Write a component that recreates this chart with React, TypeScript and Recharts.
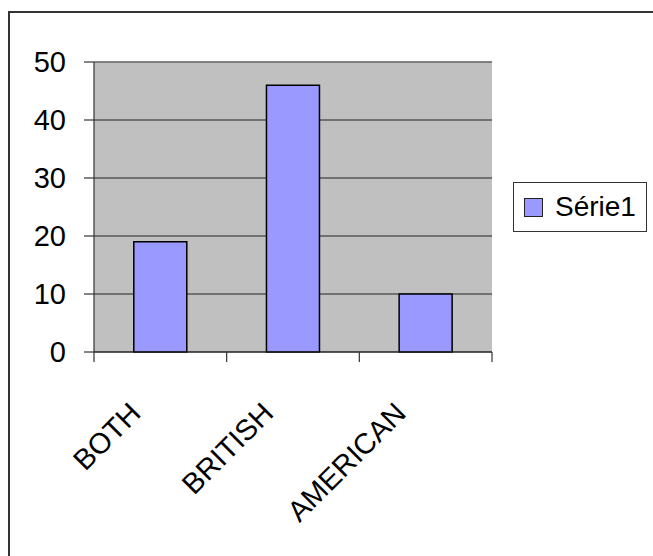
import React from "react";
import {
  BarChart,
  Bar,
  XAxis,
  YAxis,
  CartesianGrid,
  Legend,
  ReferenceLine,
} from "recharts";

const categories = ["BOTH", "BRITISH", "AMERICAN"];
const serie1 = [19, 46, 10];
const yTicks = [0, 10, 20, 30, 40, 50];

const data = categories.map((name, i) => ({ name, "Série1": serie1[i] }));

const WIDTH = 653;
const HEIGHT = 556;
const MARGIN = { top: 62, right: 161, bottom: 0, left: 0 };
const Y_AXIS_W = 94;
const X_AXIS_H = 204;
const FONT = "Arial, 'Liberation Sans', sans-serif";

// plot width / number of categories, for the boundary tick marks
const BAND = (WIDTH - MARGIN.left - MARGIN.right - Y_AXIS_W) / categories.length;

const CategoryTick = ({ x, y, payload, index }: any) => {
  const half = BAND / 2;
  const isLast = index === categories.length - 1;
  const tx = x - 18;
  const ty = y + 55;
  return (
    <g>
      <line x1={x - half} y1={y - 8} x2={x - half} y2={y + 2} stroke="#333" strokeWidth={1.2} />
      {isLast && (
        <line x1={x + half} y1={y - 8} x2={x + half} y2={y + 2} stroke="#333" strokeWidth={1.2} />
      )}
      <text
        x={tx}
        y={ty}
        textAnchor="end"
        transform={`rotate(-45, ${tx}, ${ty})`}
        fontFamily={FONT}
        fontSize={29}
        fill="#000"
      >
        {payload.value}
      </text>
    </g>
  );
};

const LegendBox = () => (
  <div
    style={{
      position: "absolute",
      left: 513,
      top: 182,
      width: 134,
      height: 50,
      border: "1.5px solid #333",
      background: "#fff",
      display: "flex",
      alignItems: "center",
      fontFamily: FONT,
      fontSize: 28,
      color: "#000",
      boxSizing: "border-box",
    }}
  >
    <span
      style={{
        width: 19,
        height: 19,
        marginLeft: 10,
        marginRight: 12,
        background: "#9999FF",
        border: "1.5px solid #222",
        boxSizing: "border-box",
      }}
    />
    <span>Série1</span>
  </div>
);

export default function App() {
  return (
    <div
      style={{
        position: "fixed",
        left: 0,
        top: 0,
        width: WIDTH,
        height: HEIGHT,
        overflow: "hidden",
        background: "#fff",
      }}
    >
      <div
        style={{
          position: "absolute",
          left: 8,
          top: 11,
          width: 700,
          height: 600,
          border: "2px solid #333",
          boxSizing: "border-box",
        }}
      />
      <div style={{ position: "absolute", left: 0, top: 0 }}>
        <BarChart
          width={WIDTH}
          height={HEIGHT}
          data={data}
          margin={MARGIN}
          barCategoryGap="30%"
        >
          <CartesianGrid
            vertical={false}
            fill="#C0C0C0"
            fillOpacity={1}
            stroke="#222"
            strokeWidth={1}
          />
          <ReferenceLine y={50} stroke="#808080" strokeWidth={1.5} />
          <XAxis
            dataKey="name"
            height={X_AXIS_H}
            interval={0}
            tickLine={false}
            axisLine={{ stroke: "#222", strokeWidth: 1.2 }}
            tick={<CategoryTick />}
          />
          <YAxis
            width={Y_AXIS_W}
            domain={[0, 50]}
            ticks={yTicks}
            interval={0}
            tickSize={10}
            tickMargin={18}
            tickLine={{ stroke: "#333", strokeWidth: 1.2 }}
            axisLine={{ stroke: "#333", strokeWidth: 1.2 }}
            tick={{ fill: "#000", fontSize: 29, fontFamily: FONT }}
          />
          <YAxis
            yAxisId="frame"
            orientation="right"
            width={0}
            domain={[0, 50]}
            tick={false}
            tickLine={false}
            axisLine={{ stroke: "#808080", strokeWidth: 2 }}
          />
          <Bar
            dataKey="Série1"
            fill="#9999FF"
            stroke="#000"
            strokeWidth={1.5}
            isAnimationActive={false}
          />
          <Legend content={() => null} />
        </BarChart>
      </div>
      <LegendBox />
    </div>
  );
}
